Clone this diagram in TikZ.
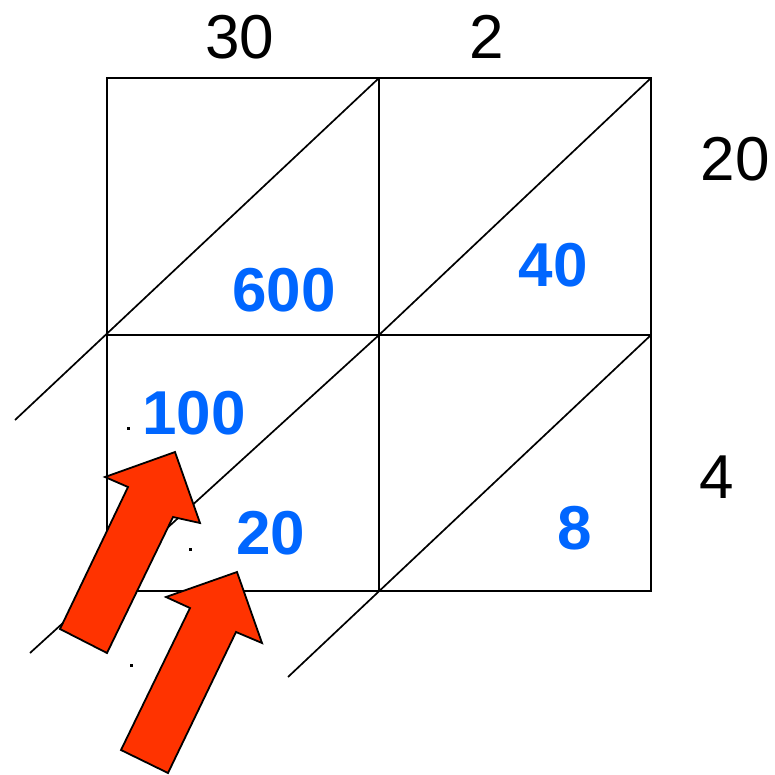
\documentclass[tikz,border=0pt]{standalone}
\usepackage{fontspec}
\setmainfont{Liberation Sans}
\definecolor{numblue}{HTML}{0066FF}
\definecolor{arrred}{HTML}{FF3300}
\tikzset{
  gridline/.style={line width=2pt, black},
  diagline/.style={line width=1.7pt, black},
  factor/.style={inner sep=0pt, font=\fontsize{62}{62}\selectfont, text=black},
  prod/.style={inner sep=0pt, font=\fontsize{62}{62}\selectfont\bfseries, text=numblue},
  fatarrow/.style={fill=arrred, draw=black, line width=1.8pt, line join=miter},
  speck/.style={fill=black, draw=none}
}
\begin{document}
\begin{tikzpicture}[x=1pt,y=-1pt]
\useasboundingbox (0,0) rectangle (775,774);
% grid corners
\coordinate (A) at (107,78);
\coordinate (B) at (379,78);
\coordinate (C) at (651,78);
\coordinate (D) at (107,335);
\coordinate (E) at (379,335);
\coordinate (F) at (651,335);
\coordinate (G) at (107,591);
\coordinate (H) at (379,591);
\coordinate (I) at (651,591);
\coordinate (L1) at (15,420);
\coordinate (L2) at (30,653);
\coordinate (L3) at (288,677);
% diagonals
\draw[diagline] (L1) -- (B);
\draw[diagline] (E) -- (C);
\draw[diagline] (L2) -- (E);
\draw[diagline] (L3) -- (F);
% grid
\draw[gridline] (A) rectangle (I);
\draw[gridline] (B) -- (H);
\draw[gridline] (D) -- (F);
% factors
\node[factor] (t30) at (240,37) {30};
\node[factor] (t2) at (487,37) {2};
\node[factor] (r20) at (735,159) {20};
\node[factor] (r4) at (717,477) {4};
% products
\node[prod] (p600) at (284,290) {600};
\node[prod] (p40) at (553,265) {40};
\node[prod] (p100) at (194,413) {100};
\node[prod] (p20) at (271,533) {20};
\node[prod] (p8) at (575,528) {8};
% specks
\fill[speck] (127,427) rectangle (129.5,429.5);
\fill[speck] (189,548) rectangle (191.5,550.5);
\fill[speck] (130,664) rectangle (132.5,666.5);
% arrows
\draw[fatarrow] (60,629) -- (128,487) -- (105,477) -- (175,452) -- (200,523) -- (173,517) -- (107,653) -- cycle;
\draw[fatarrow] (121,750) -- (190,608) -- (166,597) -- (237,572) -- (262,643) -- (236,632) -- (168,773) -- cycle;
\end{tikzpicture}
\end{document}
